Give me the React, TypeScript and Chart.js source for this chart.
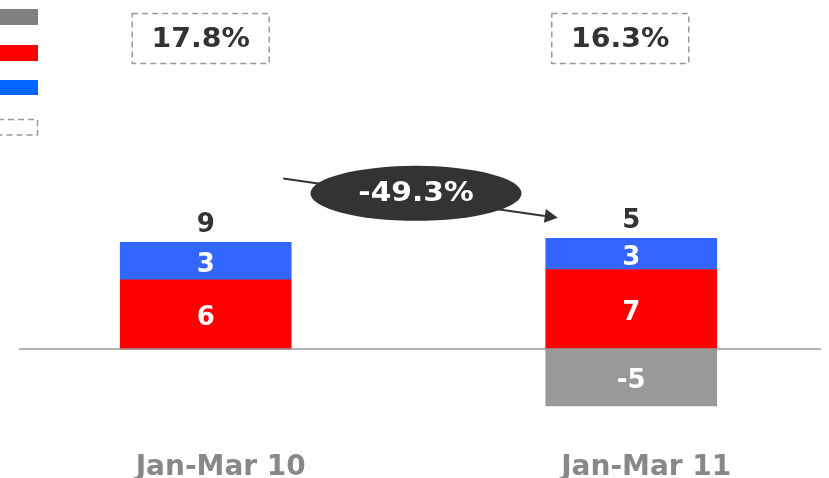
import React, { useEffect, useRef } from "react";
import { Chart, registerables } from "chart.js";

Chart.register(...registerables);

const categories = ["Jan-Mar 10", "Jan-Mar 11"];
const grayValues: (number | null)[] = [null, -5.0];
const redValues: number[] = [6.1, 7.0];
const blueValues: number[] = [3.3, 2.75];
const marginLabels = ["17.8%", "16.3%"];
const changeLabel = "-49.3%";

const FONT = '"DejaVu Sans", Verdana, sans-serif';

function stretchedText(ctx: CanvasRenderingContext2D, text: string, x: number, y: number, sx: number) {
  ctx.save();
  ctx.translate(x, y);
  ctx.scale(sx, 1);
  ctx.fillText(text, 0, 0);
  ctx.restore();
}

const overlayPlugin = {
  id: "overlay",
  afterDatasetsDraw(chart: any) {
    const ctx = chart.ctx as CanvasRenderingContext2D;
    const area = chart.chartArea;
    const ys = chart.scales.y;
    ctx.save();

    // zero line
    const y0 = ys.getPixelForValue(0);
    ctx.strokeStyle = "#999999";
    ctx.lineWidth = 1.5;
    ctx.beginPath();
    ctx.moveTo(area.left, y0);
    ctx.lineTo(area.right, y0);
    ctx.stroke();

    // segment labels
    ctx.textAlign = "center";
    ctx.textBaseline = "middle";
    ctx.font = `bold 26px ${FONT}`;
    chart.data.datasets.forEach((ds: any, di: number) => {
      const meta = chart.getDatasetMeta(di);
      meta.data.forEach((el: any, i: number) => {
        const v = ds.data[i].y;
        if (v === null || v === undefined) return;
        const cy = (el.y + el.base) / 2 + 4;
        ctx.fillStyle = "#ffffff";
        ctx.fillText(String(Math.round(v)), el.x, cy);
      });
    });

    // totals + margin boxes
    const blueMeta = chart.getDatasetMeta(2);
    const b1: any = blueMeta.data[0];
    const b2: any = blueMeta.data[1];
    const mid = (b1.x + b2.x) / 2;
    const boxSpacing = (b2.x - b1.x) - 6;
    categories.forEach((_, i) => {
      const total = (grayValues[i] ?? 0) + redValues[i] + blueValues[i];
      const el: any = blueMeta.data[i];
      ctx.font = `bold 26px ${FONT}`;
      ctx.fillStyle = "#333333";
      ctx.textBaseline = "alphabetic";
      ctx.fillText(String(Math.round(total)), el.x, el.y - 10.5);

      const bx = mid - 8 + (i - 0.5) * boxSpacing;
      const bw = 137;
      const bh = 50;
      ctx.setLineDash([6, 4]);
      ctx.strokeStyle = "#999999";
      ctx.lineWidth = 1.5;
      ctx.strokeRect(bx - bw / 2, 13.5, bw, bh);
      ctx.setLineDash([]);
      ctx.fillStyle = "#333333";
      ctx.textBaseline = "middle";
      ctx.font = `bold 27px ${FONT}`;
      stretchedText(ctx, marginLabels[i], bx, 40, 1.05);
    });

    // arrow
    const sx = b1.x + 77.5;
    const sy = ys.getPixelForValue(15);
    const ex = b2.x - 73.5;
    const ey = ys.getPixelForValue(11.55);
    ctx.strokeStyle = "#333333";
    ctx.fillStyle = "#333333";
    ctx.lineWidth = 2;
    const ang = Math.atan2(ey - sy, ex - sx);
    const hl = 13;
    const hw = 7;
    const bxp = ex - hl * Math.cos(ang);
    const byp = ey - hl * Math.sin(ang);
    ctx.beginPath();
    ctx.moveTo(sx, sy);
    ctx.lineTo(bxp, byp);
    ctx.stroke();
    ctx.beginPath();
    ctx.moveTo(ex, ey);
    ctx.lineTo(bxp + hw * Math.sin(ang), byp - hw * Math.cos(ang));
    ctx.lineTo(bxp - hw * Math.sin(ang), byp + hw * Math.cos(ang));
    ctx.closePath();
    ctx.fill();

    // ellipse
    const cx = mid - 2.5;
    const cyE = ys.getPixelForValue(13.7);
    ctx.beginPath();
    ctx.ellipse(cx, cyE, 105.5, 27.5, 0, 0, Math.PI * 2);
    ctx.fillStyle = "#333333";
    ctx.fill();
    ctx.fillStyle = "#ffffff";
    ctx.textBaseline = "middle";
    ctx.font = `bold 27px ${FONT}`;
    stretchedText(ctx, changeLabel, cx, cyE + 1, 1.1);

    // legend swatches
    ctx.fillStyle = "#808080";
    ctx.fillRect(0, 9, 38, 16);
    ctx.fillStyle = "#ff0000";
    ctx.fillRect(0, 45, 38, 16);
    ctx.fillStyle = "#0066ff";
    ctx.fillRect(0, 80, 38, 15);
    ctx.setLineDash([6, 4]);
    ctx.strokeStyle = "#999999";
    ctx.lineWidth = 1.5;
    ctx.beginPath();
    ctx.moveTo(-2, 119.5);
    ctx.lineTo(37.5, 119.5);
    ctx.lineTo(37.5, 135);
    ctx.lineTo(-2, 135);
    ctx.stroke();
    ctx.setLineDash([]);

    ctx.restore();
  },
};

export default function App() {
  const ref = useRef<HTMLCanvasElement | null>(null);
  useEffect(() => {
    if (!ref.current) return;
    const toXY = (arr: (number | null)[]) => arr.map((v, i) => ({ x: i, y: v }));
    const chart = new Chart(ref.current, {
      type: "bar",
      data: {
        datasets: [
          { label: "gray", data: toXY(grayValues) as any, backgroundColor: "#999999", barThickness: 171 },
          { label: "red", data: toXY(redValues) as any, backgroundColor: "#ff0000", barThickness: 171 },
          { label: "blue", data: toXY(blueValues) as any, backgroundColor: "#3366ff", barThickness: 171 },
        ],
      },
      options: {
        responsive: false,
        animation: false,
        layout: { padding: { top: 99, left: 19, right: 8, bottom: 0 } },
        plugins: { legend: { display: false }, tooltip: { enabled: false } },
        scales: {
          x: {
            type: "linear",
            stacked: true,
            offset: false,
            bounds: "data",
            min: -0.4388,
            max: 1.4459,
            grid: { display: false, drawTicks: false, offset: false },
            border: { display: false },
            afterBuildTicks: (scale: any) => {
              scale.ticks = categories.map((_, i) => ({ value: i }));
            },
            afterFit: (scale: any) => {
              scale.height = 38;
            },
            ticks: {
              padding: 11,
              labelOffset: 15,
              color: "#888888",
              font: { family: FONT, size: 28, weight: "bold" },
              callback: (v: any) => categories[v] ?? "",
              maxRotation: 0,
              autoSkip: false,
            },
          },
          y: {
            display: false,
            stacked: true,
            min: -8,
            max: 22,
          },
        },
      },
      plugins: [overlayPlugin],
    });
    return () => chart.destroy();
  }, []);
  return (
    <div style={{ position: "absolute", left: 0, top: 0, width: 829, height: 478, background: "#fff" }}>
      <canvas ref={ref} width={829} height={478} style={{ display: "block" }} />
    </div>
  );
}
